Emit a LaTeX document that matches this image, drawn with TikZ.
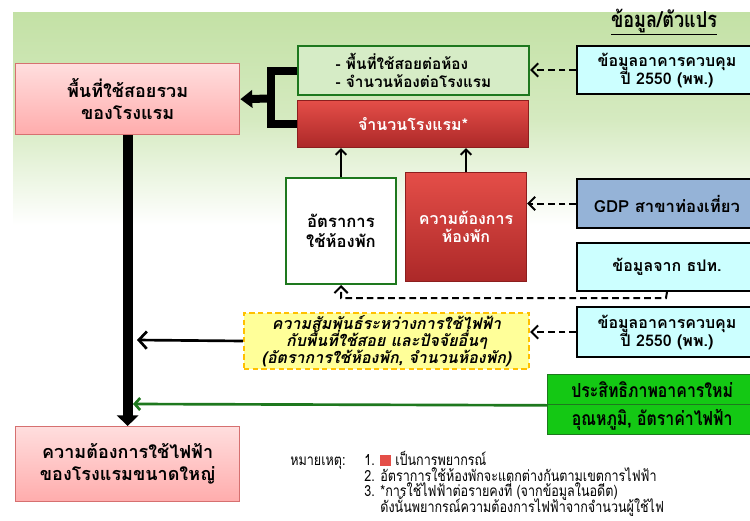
\documentclass[tikz,border=0pt]{standalone}
\usepackage{fontspec}
\setmainfont[Script=Thai]{Loma}
\newfontfamily\thainarrow[Script=Thai,FakeStretch=0.82]{Loma}
\usepackage{tikz}
\usetikzlibrary{arrows.meta}

\definecolor{bggreen}{RGB}{195,225,165}
\definecolor{pinktop}{RGB}{255,222,222}
\definecolor{pinkbot}{RGB}{255,172,172}
\definecolor{pinkedge}{RGB}{214,112,112}
\definecolor{redtop}{RGB}{228,78,72}
\definecolor{redbot}{RGB}{172,40,40}
\definecolor{rededge}{RGB}{140,30,30}
\definecolor{grnedge}{RGB}{30,120,30}
\definecolor{lightgrn}{RGB}{214,236,198}
\definecolor{srccyan}{RGB}{204,255,255}
\definecolor{gdpblue}{RGB}{149,179,215}
\definecolor{jyellow}{RGB}{255,255,153}
\definecolor{jedge}{RGB}{255,192,0}
\definecolor{vargreen}{RGB}{20,200,20}

\newcommand\notefont{\thainarrow\fontsize{11.5}{11.8}\selectfont\setlength{\lineskiplimit}{-20pt}}

\begin{document}
\begin{tikzpicture}[x=0.75pt,y=0.75pt,yscale=-1,xscale=1,
    box/.style={anchor=north west, align=center, inner sep=2pt, font=\bfseries},
    pinkbox/.style={box, draw=pinkedge, line width=1pt, top color=pinktop, bottom color=pinkbot},
    redbox/.style={box, draw=rededge, line width=0.8pt, top color=redtop, bottom color=redbot, text=white},
    srcbox/.style={box, draw=black, line width=1.5pt, fill=srccyan},
    notetext/.style={anchor=north west, inner sep=0pt, align=left, font=\notefont},
    dasharrow/.style={draw, line width=1.5pt, dash pattern=on 5pt off 3pt, -{Straight Barb[length=5pt,width=10pt,line width=1.5pt]}},
    thinarrow/.style={draw, line width=1.5pt, -{Straight Barb[length=4pt,width=8pt,line width=1.5pt]}},
    fatline/.style={draw, line width=6pt}
  ]
  \clip (0,0) rectangle (750,521);
  \fill[white] (0,0) rectangle (750,521);
  %Shape: Background band
  \shade[top color=bggreen, bottom color=white, middle color=bggreen!70] (13,12) rectangle (750,225);

  % Text Node
  \node (hdr) at (664,22) {\thainarrow\fontsize{16.5}{18}\selectfont\bfseries\underline{ข้อมูล/ตัวแปร}};

  %Shape: Rectangle
  \node [pinkbox, minimum width=168pt, minimum height=53.25pt, font=\bfseries\fontsize{13.5}{16.5}\selectfont] (area) at (15,63) {พื้นที่ใช้สอยรวม\\ของโรงแรม};
  %Shape: Rectangle
  \node [box, draw=grnedge, line width=1.5pt, fill=lightgrn, minimum width=173.25pt, minimum height=36.75pt, align=left, font=\bfseries\fontsize{11.5}{13}\selectfont] (ratio) at (297,45) {- พื้นที่ใช้สอยต่อห้อง\\- จำนวนห้องต่อโรงแรม};
  %Shape: Rectangle
  \node [redbox, minimum width=173.25pt, minimum height=35.25pt, font=\bfseries\fontsize{12}{13}\selectfont] (hotels) at (297,100) {จำนวนโรงแรม*};
  %Shape: Rectangle
  \node [srcbox, minimum width=135pt, minimum height=36pt, font=\bfseries\fontsize{12}{13.5}\selectfont] (bldg) at (576,45) {ข้อมูลอาคารควบคุม\\ปี 2550 (พพ.)};
  %Shape: Rectangle
  \node [box, draw=grnedge, line width=1.5pt, fill=white, minimum width=82.5pt, minimum height=79.5pt, font=\bfseries\fontsize{12.5}{15}\selectfont] (occ) at (285,177) {อัตราการ\\ใช้ห้องพัก};
  %Shape: Rectangle
  \node [redbox, minimum width=90.75pt, minimum height=81.75pt, font=\bfseries\fontsize{12}{13.5}\selectfont] (rooms) at (405,172) {ความต้องการ\\ห้องพัก};
  %Shape: Rectangle
  \node [box, draw=black, line width=1.5pt, fill=gdpblue, minimum width=135pt, minimum height=36.75pt, font=\bfseries\fontsize{12.5}{13.5}\selectfont] (gdp) at (576,178) {GDP สาขาท่องเที่ยว};
  %Shape: Rectangle
  \node [srcbox, minimum width=135pt, minimum height=36pt, font=\bfseries\fontsize{12}{13.5}\selectfont] (bot) at (576,242) {ข้อมูลจาก ธปท.};
  %Shape: Rectangle
  \node [srcbox, minimum width=135pt, minimum height=37.5pt, font=\bfseries\fontsize{12}{13.5}\selectfont] (bldgb) at (576,306) {ข้อมูลอาคารควบคุม\\ปี 2550 (พพ.)};
  %Shape: Rectangle
  \node [box, draw=jedge, line width=1.5pt, dash pattern=on 4pt off 2.5pt, fill=jyellow, minimum width=213.75pt, minimum height=42pt, inner sep=1pt, font=\bfseries\itshape\fontsize{12}{13}\selectfont] (rel) at (243,312) {ความสัมพันธ์ระหว่างการใช้ไฟฟ้า\\กับพื้นที่ใช้สอย และปัจจัยอื่นๆ\\(อัตราการใช้ห้องพัก, จำนวนห้องพัก)};
  %Shape: Rectangle
  \node [box, draw=grnedge, line width=1pt, fill=vargreen, minimum width=156.75pt, minimum height=22.5pt, font=\thainarrow\bfseries\fontsize{14.5}{16}\selectfont] (eff) at (547,374) {ประสิทธิภาพอาคารใหม่};
  %Shape: Rectangle
  \node [box, draw=grnedge, line width=1pt, fill=vargreen, minimum width=156.75pt, minimum height=22.5pt, font=\thainarrow\bfseries\fontsize{14.5}{16}\selectfont] (temp) at (547,404) {อุณหภูมิ, อัตราค่าไฟฟ้า};
  %Shape: Rectangle
  \node [pinkbox, minimum width=168pt, minimum height=56.25pt, font=\bfseries\fontsize{13.5}{16.5}\selectfont] (demand) at (15,426) {ความต้องการใช้ไฟฟ้า\\ของโรงแรมขนาดใหญ่};

  % Text Node
  \node [notetext] (notelbl) at (290,449) {\rule{0pt}{12pt}หมายเหตุ:};
  % Text Node
  \node [notetext] (notes) at (364,449) {\rule{0pt}{12pt}1. {\color{redtop}\rule[-0.5pt]{8pt}{8pt}} เป็นการพยากรณ์\\2. อัตราการใช้ห้องพักจะแตกต่างกันตามเขตการไฟฟ้า\\3. *การใช้ไฟฟ้าต่อรายคงที่ (จากข้อมูลในอดีต)\\\phantom{3. }ดังนั้นพยากรณ์ความต้องการไฟฟ้าจากจำนวนผู้ใช้ไฟ};

  \coordinate (join) at (271,98.5);
  \coordinate (hbend) at (666,298);
  \coordinate (jtip) at (137,340);
  \coordinate (gtip) at (133,404);

  %Straight Lines
  \draw [fatline] (ratio.west) -| (join) |- (hotels.west);
  \draw [fatline, -{Triangle[length=9pt,width=13pt]}] (join) -- (area.east);
  %Straight Lines
  \draw [line width=7.5pt, -{Triangle[length=8pt,width=16pt]}] (area.south) -- (demand.north);
  %Straight Lines
  \draw [dasharrow] (bldg.west) -- (bldg.west -| ratio.east);
  \draw [thinarrow] (occ.north) -- (occ.north |- hotels.south);
  \draw [thinarrow] (rooms.north) -- (rooms.north |- hotels.south);
  \draw [dasharrow] (gdp.west) -- (gdp.west -| rooms.east);
  \draw [dasharrow] (bot.south) -- (hbend) -| (occ.south);
  \draw [dasharrow] (bldgb.west) -- (bldgb.west -| rel.east);
  \draw [line width=2pt, -{Straight Barb[length=6pt,width=13pt,line width=2pt]}] (rel.west) -- (jtip);
  \draw [draw=grnedge, line width=2pt, -{Straight Barb[length=4pt,width=9pt,line width=2pt]}] (eff.south west) -- (gtip);
\end{tikzpicture}
\end{document}
